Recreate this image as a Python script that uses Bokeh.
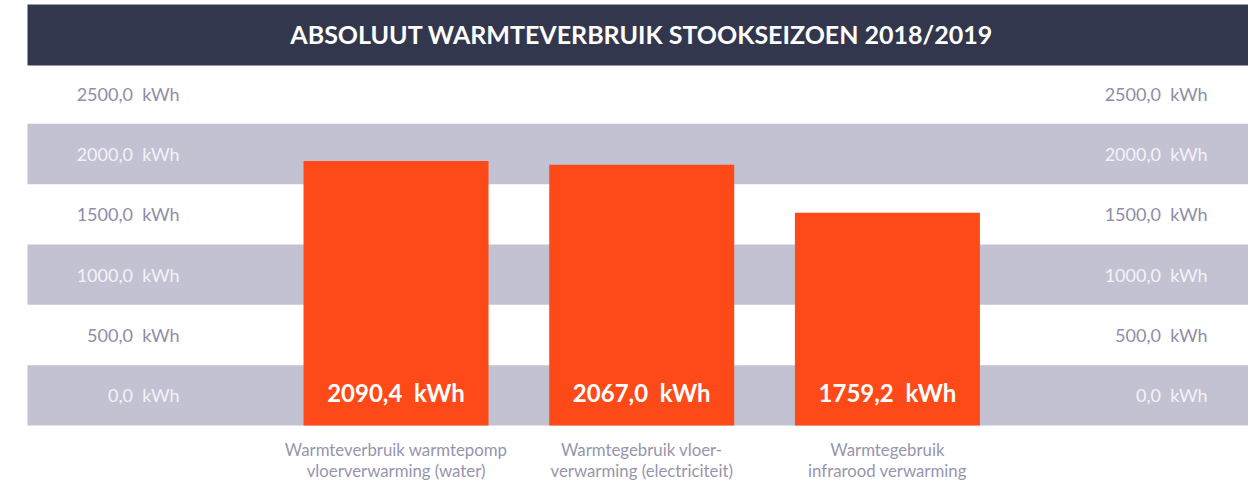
from bokeh.plotting import figure
from bokeh.models import Range1d, ColumnDataSource
from bokeh.core.properties import value
from bokeh.embed import file_html
from bokeh.resources import INLINE

# ---------------- data ----------------
title_text = "ABSOLUUT WARMTEVERBRUIK STOOKSEIZOEN 2018/2019"
categories = [
    "Warmteverbruik warmtepomp\nvloerverwarming (water)",
    "Warmtegebruik vloer-\nverwarming (electriciteit)",
    "Warmtegebruik\ninfrarood verwarming",
]
values = [2090.4, 2067.0, 1759.2]
value_labels = ["2090,4\u00a0 kWh", "2067,0\u00a0 kWh", "1759,2\u00a0 kWh"]
band_ticks = [0, 500, 1000, 1500, 2000, 2500]
band_labels = ["0,0\u00a0 kWh", "500,0\u00a0 kWh", "1000,0\u00a0 kWh",
               "1500,0\u00a0 kWh", "2000,0\u00a0 kWh", "2500,0\u00a0 kWh"]

# ---------------- styling ----------------
NAVY = "#33374d"
BAND = "#c3c2d3"
ORANGE = "#fd4a18"
TXT_GRAY = "#8f8da8"
TXT_LIGHT = "#f3f3f7"
CAT_GRAY = "#9795ad"
FONT = "Lato"

W, H = 1248, 480
BAR_BASE = 400.0  # value at the bottom of the bars

X0, X1 = -1.5, 3.4697
xs = list(range(len(values)))
p = figure(width=W, height=H, x_range=Range1d(X0, X1), y_range=Range1d(48.5, 3115.8),
           output_backend="svg", toolbar_location=None,
           x_axis_location=None, y_axis_location=None,
           min_border_left=27, min_border_right=0, min_border_top=0, min_border_bottom=0)
p.outline_line_color = None
p.xgrid.visible = False
p.ygrid.visible = False
p.background_fill_color = "white"
p.border_fill_color = "white"
p.extra_y_ranges = {"bands": Range1d(-0.912, 7.045)}

# bands
band_idx = list(range(len(band_ticks)))
gray_idx = [i for i in band_idx if i % 2 == 0]
p.quad(left=-5, right=10, bottom=gray_idx, top=[i + 1 for i in gray_idx],
       fill_color=BAND, line_color=None, y_range_name="bands")

# title bar
p.quad(left=-5, right=10, bottom=5.967, top=6.978, fill_color=NAVY, line_color=None, y_range_name="bands")
p.text(x=[1], y=[6.49], text=[title_text], text_font=value(FONT), text_font_style="bold",
       text_font_size="25px", text_color="white", text_align="center", text_baseline="middle",
       y_range_name="bands")

# band labels
lab_src = ColumnDataSource(dict(
    y=[i + 0.5 for i in band_idx],
    text=band_labels,
    color=[TXT_LIGHT if i % 2 == 0 else TXT_GRAY for i in band_idx],
))
p.text(x=X0, y="y", text="text", source=lab_src, x_offset=152, text_font=value(FONT),
       text_font_size="18px", text_color="color", text_align="right", text_baseline="middle",
       y_range_name="bands")
p.text(x=X1, y="y", text="text", source=lab_src, x_offset=-41, text_font=value(FONT),
       text_font_size="18px", text_color="color", text_align="right", text_baseline="middle",
       y_range_name="bands")

# bars
src = ColumnDataSource(dict(x=xs, top=values, lab=value_labels, cat=categories))
p.vbar(x="x", top="top", bottom=BAR_BASE, width=0.753, source=src, fill_color=ORANGE, line_color=None)
p.text(x="x", y=BAR_BASE, text="lab", source=src, y_offset=-33, text_font=value(FONT),
       text_font_style="bold", text_font_size="24px", text_color="white",
       text_align="center", text_baseline="alphabetic")
p.text(x="x", y=BAR_BASE, text="cat", source=src, y_offset=14, text_font=value(FONT),
       text_font_size="16.8px", text_color=CAT_GRAY, text_align="center", text_baseline="top",
       text_line_height=1.0)

open("out.html", "w").write(file_html(p, INLINE))
